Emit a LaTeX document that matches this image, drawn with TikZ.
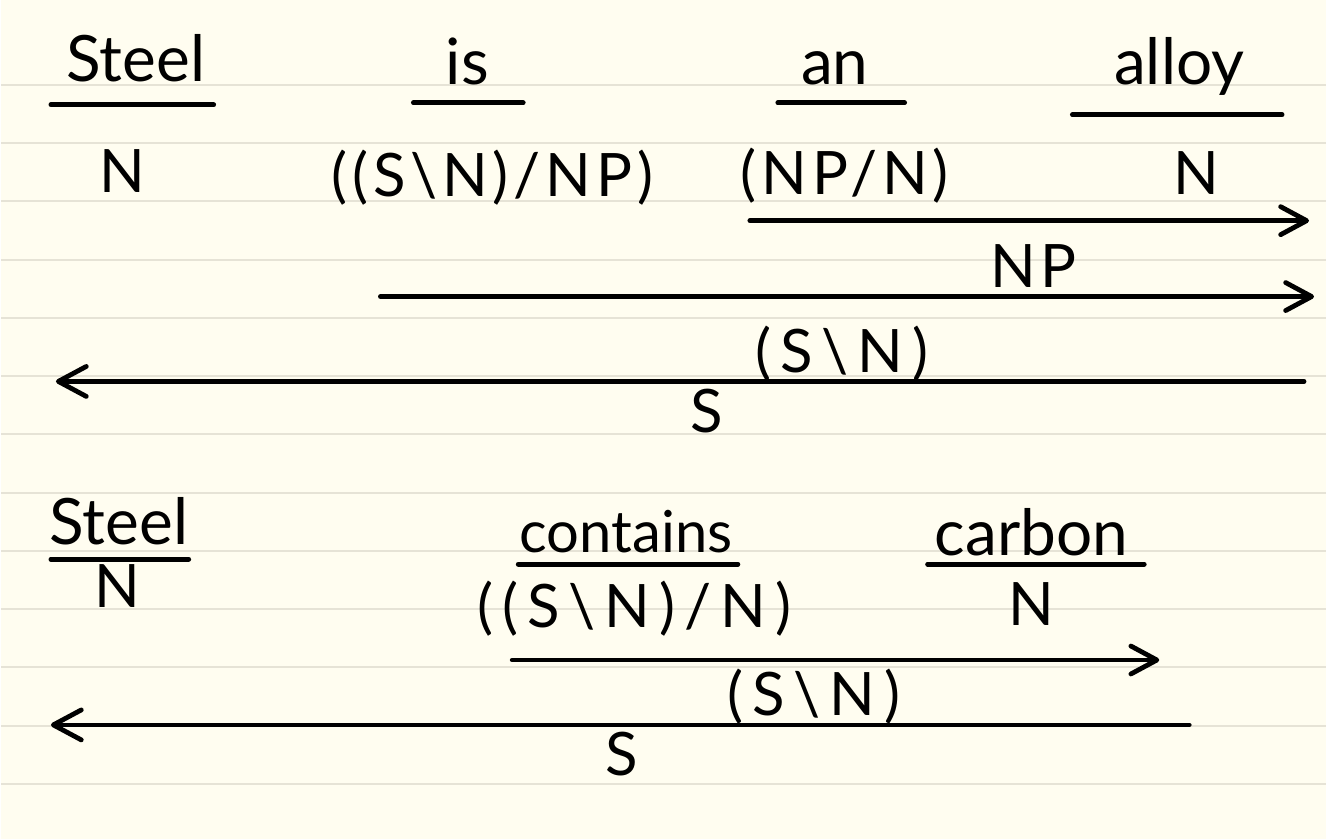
\documentclass[tikz,border=0pt]{standalone}
\usepackage{fontspec}
\setmainfont{Lato}
\usetikzlibrary{arrows.meta}
\definecolor{paper}{HTML}{FFFDF0}
\definecolor{ruling}{HTML}{E6E3D6}

\begin{document}
\begin{tikzpicture}[
    x=0.5pt, y=-0.5pt,
    word/.style={anchor=base, inner sep=0pt, font=\fontsize{32}{32}\selectfont},
    cat/.style={anchor=base, inner sep=0pt,
                font=\fontsize{30}{30}\selectfont\addfontfeatures{LetterSpace=8}},
    widecat/.style={cat, font=\fontsize{30}{30}\selectfont\addfontfeatures{LetterSpace=15}},
    bar/.style={line width=2.4pt, line cap=round},
    fwd/.style={bar, -{Straight Barb[length=13pt,width=14pt,round]}},
    bwd/.style={bar, {Straight Barb[length=14pt,width=15pt,round]}-}
]
% paper
\fill[paper] (0,0) rectangle (1327,840);
\foreach \k [evaluate=\k as \yy using 85+58.33*\k] in {0,...,12}
    \draw[ruling, line width=1pt] (0,\yy) -- (1327,\yy);

% first sentence
\node[word] (steelA) at (135,82) {Steel};
\node[word] (isA)    at (467,85) {is};
\node[word] (anA)    at (835,85) {an};
\node[word] (alloyA) at (1180,85) {alloy};
\draw[bar] (50,105) -- (213,105);
\draw[bar] (413,103) -- (523,103);
\draw[bar] (778,103) -- (905,103);
\draw[bar] (1073,115) -- (1283,115);

\node[cat] (nSteelA) at (122,193) {N};
\node[cat] (tvIs)    at (492,197) {((S\textbackslash N)/NP)};
\node[cat] (detAn)   at (845,195) {(NP/N)};
\node[cat] (nAlloy)  at (1197,195) {N};

\coordinate (a1s) at (750,221);  \coordinate (a1e) at (1310,221);
\coordinate (a2s) at (380,297);  \coordinate (a2e) at (1315,297);
\coordinate (a3s) at (1305,382); \coordinate (a3e) at (55,382);
\draw[fwd] (a1s) -- (a1e);
\node[cat] (npA) at (1034,288) {NP};
\draw[fwd] (a2s) -- (a2e);
\node[widecat] (vpA) at (842,373) {(S\textbackslash N)};
\draw[bwd] (a3e) -- (a3s);
\node[cat] (sA) at (707,433) {S};

% second sentence
\node[word] (steelB)    at (118,545) {Steel};
\node[word, font=\fontsize{29}{29}\selectfont] (containsB) at (626,553) {contains};
\node[word] (carbonB)   at (1032,556) {carbon};
\draw[bar] (50,560) -- (188,560);
\draw[bar] (518,565) -- (738,565);
\draw[bar] (928,565) -- (1145,565);

\node[cat] (nSteelB)    at (117,608) {N};
\node[widecat] (tvContains) at (634,628) {((S\textbackslash N)/N)};
\node[cat] (nCarbon)    at (1032,626) {N};

\coordinate (b1s) at (512,661);  \coordinate (b1e) at (1160,661);
\coordinate (b2s) at (1190,726); \coordinate (b2e) at (50,726);
\draw[fwd] (b1s) -- (b1e);
\node[widecat] (vpB) at (814,717) {(S\textbackslash N)};
\draw[bwd] (b2e) -- (b2s);
\node[cat] (sB) at (622,777) {S};
\end{tikzpicture}
\end{document}
